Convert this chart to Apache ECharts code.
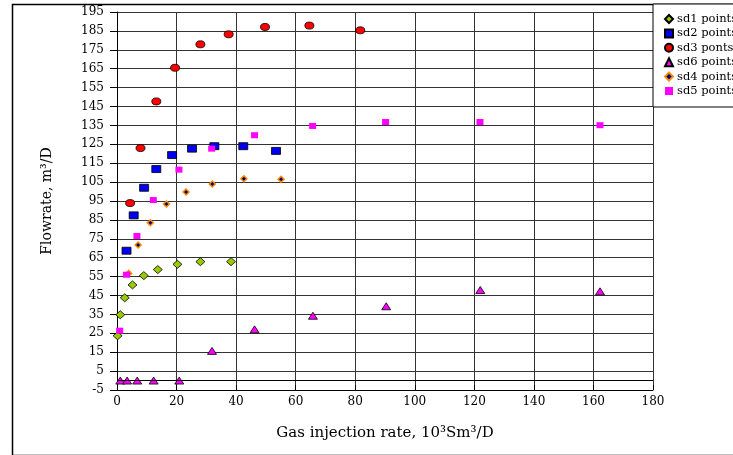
<!DOCTYPE html>
<html>
<head>
<meta charset="utf-8">
<script src="https://cdn.jsdelivr.net/npm/echarts@6/dist/echarts.min.js"></script>
<style>
html,body{margin:0;padding:0;background:#fff;}
#chart{width:733px;height:455px;}
</style>
</head>
<body>
<div id="chart"></div>
<script>
// ---- data ----
const seriesNames = ['sd1 points', 'sd2 points', 'sd3 ponts', 'sd6 points', 'sd4 points', 'sd5 points'];

const sd1X = [0.2, 1.1, 2.6, 5.2, 9.0, 13.7, 20.3, 28.0, 38.3];
const sd1Y = [23.7, 34.8, 43.8, 50.6, 55.5, 58.7, 61.5, 62.9, 62.9];

const sd2X = [3.2, 5.6, 9.1, 13.2, 18.5, 25.2, 32.7, 42.4, 53.4];
const sd2Y = [68.7, 87.4, 102.0, 111.9, 119.3, 122.7, 124.0, 124.0, 121.5];

const sd3X = [4.4, 7.9, 13.2, 19.5, 28.0, 37.5, 49.7, 64.6, 81.7];
const sd3Y = [93.9, 123.0, 147.7, 165.5, 177.9, 183.2, 187.1, 187.8, 185.3];

const sd6X = [1.1, 3.4, 6.8, 12.3, 20.9, 31.9, 46.2, 65.8, 90.4, 122.0, 162.2];
const sd6Y = [0, 0, 0, 0, 0, 15.7, 27.1, 34.3, 39.3, 47.9, 47.2];

const sd4X = [3.9, 7.1, 11.2, 16.6, 23.2, 32.0, 42.6, 55.1];
const sd4Y = [56.7, 71.7, 83.5, 93.4, 99.8, 104.0, 106.8, 106.5];

const sd5X = [0.9, 3.2, 6.7, 12.2, 20.8, 31.8, 46.2, 65.7, 90.2, 121.9, 162.2];
const sd5Y = [26.4, 56.0, 76.5, 95.5, 111.6, 122.7, 129.8, 134.7, 136.8, 136.8, 135.1];

const xMin = 0, xMax = 180, xStep = 20;
const yMin = -5, yMax = 195, yStep = 10;

const xTitle = 'Gas injection rate, 10\u00B3Sm\u00B3/D';
const yTitle = 'Flowrate, m\u00B3/D';

function pairs(xs, ys) { return xs.map((x, i) => [x, ys[i]]); }

const FONT = 'DejaVu Serif';
const chart = echarts.init(document.getElementById('chart'), null, {renderer: 'canvas'});

const option = {
  backgroundColor: '#fff',
  animation: false,
  graphic: [{
    type: 'rect', left: 10, top: 2, z: -10,
    shape: {width: 740, height: 451},
    style: {fill: 'none', stroke: '#000', lineWidth: 1.5}
  }],
  grid: {left: 117, right: 80, top: 12, bottom: 65, containLabel: false},
  legend: {
    orient: 'vertical',
    left: 653, top: 4,
    padding: [8, 20, 9, 11],
    itemWidth: 8, itemHeight: 8, itemGap: 0.4,
    borderColor: '#000', borderWidth: 1, borderRadius: 0,
    backgroundColor: '#fff',
    data: seriesNames,
    textStyle: {fontFamily: FONT, fontSize: 11.5, color: '#000', lineHeight: 14, padding: [0, 0, 0, -1]}
  },
  xAxis: {
    type: 'value', min: xMin, max: xMax, interval: xStep,
    name: xTitle, nameLocation: 'middle', nameGap: 36,
    nameTextStyle: {fontFamily: FONT, fontSize: 15, color: '#000'},
    axisLine: {show: true, onZero: false, lineStyle: {color: '#000', width: 1}},
    axisTick: {show: true, inside: true, length: 5, lineStyle: {color: '#000'}},
    axisLabel: {fontFamily: FONT, fontSize: 12, color: '#000', margin: 6},
    splitLine: {show: true, lineStyle: {color: '#333', width: 1}}
  },
  yAxis: {
    type: 'value', min: yMin, max: yMax, interval: yStep,
    name: yTitle, nameLocation: 'middle', nameGap: 63, nameRotate: 90,
    nameTextStyle: {fontFamily: FONT, fontSize: 14, color: '#000'},
    axisLine: {show: true, onZero: false, lineStyle: {color: '#000', width: 1}},
    axisTick: {show: true, inside: false, length: 7, lineStyle: {color: '#000'}},
    axisLabel: {fontFamily: FONT, fontSize: 12, color: '#000', margin: 13},
    splitLine: {show: true, lineStyle: {color: '#333', width: 1}}
  },
  series: [
    {
      name: seriesNames[0], type: 'scatter', data: pairs(sd1X, sd1Y),
      symbol: 'diamond', symbolSize: [9, 8],
      itemStyle: {color: '#99CC00', borderColor: '#000', borderWidth: 0.8, opacity: 1},
      markLine: {
        silent: true, symbol: 'none', label: {show: false},
        lineStyle: {color: '#000', width: 1, type: 'solid'},
        data: [{yAxis: 0}]
      }
    },
    {
      name: seriesNames[1], type: 'scatter', data: pairs(sd2X, sd2Y),
      symbol: 'rect', symbolSize: [9, 7],
      itemStyle: {color: '#0000EE', borderColor: '#000', borderWidth: 0.8, opacity: 1}
    },
    {
      name: seriesNames[2], type: 'scatter', data: pairs(sd3X, sd3Y),
      symbol: 'circle', symbolSize: [9, 7],
      itemStyle: {color: '#FF0000', borderColor: '#000', borderWidth: 0.8, opacity: 1}
    },
    {
      name: seriesNames[3], type: 'scatter', data: pairs(sd6X, sd6Y),
      symbol: 'triangle', symbolSize: [9, 7],
      itemStyle: {color: '#FF00FF', borderColor: '#000', borderWidth: 0.8, opacity: 1}
    },
    {
      name: seriesNames[4], type: 'scatter', data: pairs(sd4X, sd4Y),
      symbol: 'diamond', symbolSize: [6, 6],
      itemStyle: {color: '#000080', borderColor: '#FF8C00', borderWidth: 1.5, opacity: 1}
    },
    {
      name: seriesNames[5], type: 'scatter', data: pairs(sd5X, sd5Y),
      symbol: 'rect', symbolSize: [7, 6],
      itemStyle: {color: '#FF00FF', opacity: 1}
    }
  ]
};
chart.setOption(option);
</script>
</body>
</html>
